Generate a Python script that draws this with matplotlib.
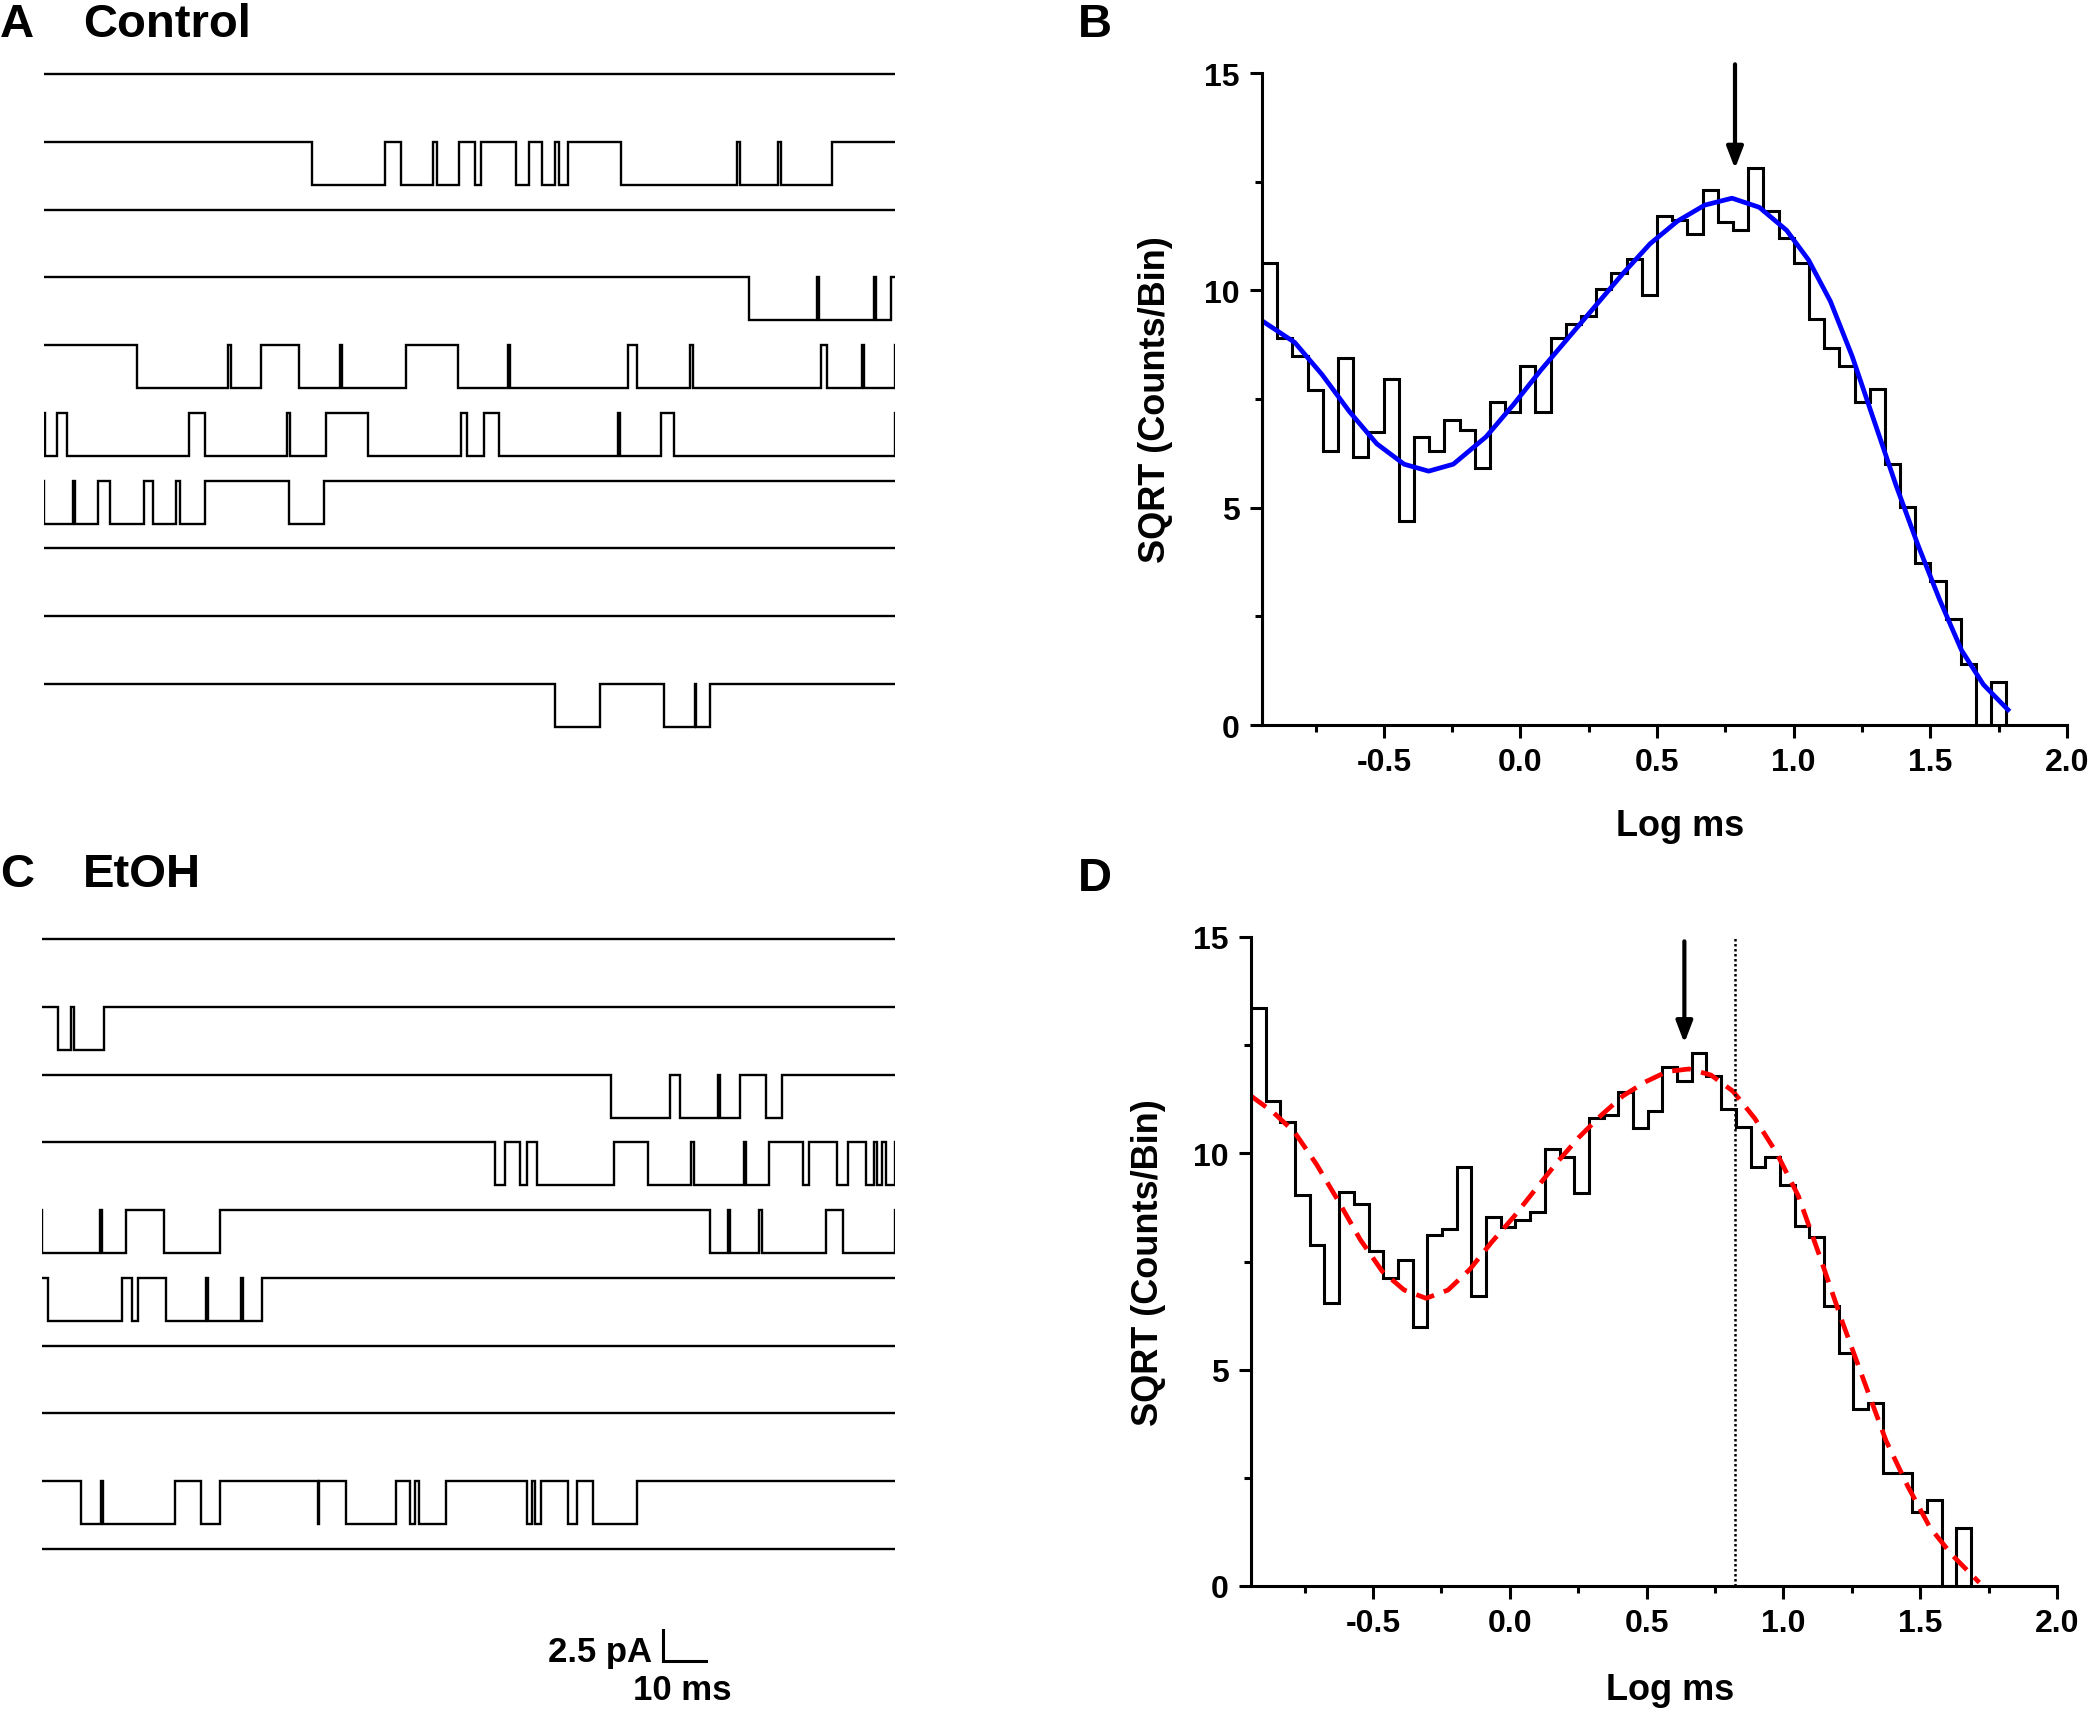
import numpy as np
import matplotlib
matplotlib.use("Agg")
import matplotlib.pyplot as plt
from matplotlib.ticker import MultipleLocator, FormatStrFormatter

plt.rcParams["font.family"] = ["Liberation Sans", "DejaVu Sans"]
plt.rcParams["font.weight"] = "bold"
plt.rcParams["axes.unicode_minus"] = False

# ---- single channel traces: open intervals (ms) per sweep, 200 ms sweeps ----
sweep_ms = 200.0
open_amp_pA = 3.5

control_open = [
    [],
    [(63.0, 80.2), (84.0, 91.4), (92.3, 97.5), (101.3, 102.6), (111.0, 113.9),
     (117.0, 120.2), (121.1, 123.1), (135.7, 162.9), (163.6, 172.4), (173.3, 185.2)],
    [],
    [(165.6, 181.6), (182.2, 195.0), (195.6, 199.0)],
    [(21.9, 43.2), (44.0, 50.9), (59.9, 69.5), (70.1, 85.0), (97.2, 109.1),
     (109.6, 137.3), (139.3, 151.9), (152.6, 182.5), (184.1, 192.2), (192.8, 200.0)],
    [(0.3, 3.0), (5.4, 34.0), (37.8, 57.2), (57.7, 66.2), (76.1, 98.1),
     (99.5, 103.3), (106.9, 134.8), (135.3, 145.1), (148.1, 200.0)],
    [(0.0, 6.8), (7.3, 12.7), (15.5, 23.5), (25.7, 31.0), (32.0, 37.8), (57.6, 65.7)],
    [],
    [],
    [(120.2, 130.7), (145.7, 152.9), (153.3, 156.5)],
]

etoh_open = [
    [],
    [(3.8, 6.9), (7.4, 14.5)],
    [(133.5, 147.3), (149.6, 158.4), (159.0, 163.7), (169.7, 173.4)],
    [(106.2, 108.6), (112.0, 113.7), (116.0, 134.1), (142.2, 152.1), (152.8, 164.5),
     (165.1, 170.4), (178.5, 179.8), (186.5, 189.0), (193.3, 195.0), (195.8, 197.0),
     (198.0, 200.0)],
    [(0.0, 13.6), (14.1, 19.6), (28.6, 41.7), (156.7, 160.8), (161.3, 168.2),
     (168.7, 183.9), (187.9, 200.0)],
    [(1.3, 18.8), (21.0, 22.6), (29.0, 38.5), (39.0, 46.6), (47.1, 51.5)],
    [],
    [],
    [(9.2, 13.8), (14.2, 31.1), (37.3, 41.8), (64.6, 65.0), (71.2, 83.0), (86.3, 87.5),
     (88.5, 94.7), (113.7, 115.0), (115.6, 116.9), (123.4, 125.4), (129.3, 139.5)],
    [],
]

# ---- dwell time histograms (sqrt counts per bin), log ms ----
bin_start = -0.946
bin_width_B = 0.0556
bin_width_D = 0.0537

control_hist = [10.62, 8.90, 8.50, 7.70, 6.31, 8.45, 6.16, 6.73, 7.95, 4.70,
                6.62, 6.30, 7.02, 6.79, 5.92, 7.42, 7.19, 8.27, 7.20, 8.90,
                9.22, 9.40, 10.02, 10.41, 10.72, 9.89, 11.71, 11.62, 11.29, 12.31,
                11.58, 11.39, 12.81, 11.83, 11.21, 10.62, 9.33, 8.67, 8.27, 7.42,
                7.74, 6.00, 5.02, 3.73, 3.31, 2.44, 1.40, 0.0, 0.98]

etoh_hist = [13.35, 11.21, 10.72, 9.04, 7.88, 6.53, 9.10, 8.82, 7.74, 7.12,
             7.53, 5.98, 8.11, 8.25, 9.69, 6.70, 8.52, 8.29, 8.47, 8.64,
             10.10, 9.91, 9.08, 10.81, 10.89, 11.41, 10.58, 10.98, 11.99, 11.68,
             12.31, 11.79, 11.02, 10.60, 9.68, 9.91, 9.27, 8.32, 8.06, 6.46,
             5.39, 4.10, 4.23, 2.62, 2.62, 1.72, 1.99, 0.0, 1.35]

control_fit_x = [-0.946, -0.826, -0.726, -0.626, -0.526, -0.426, -0.336, -0.246, -0.126,
                 -0.026, 0.074, 0.174, 0.274, 0.374, 0.474, 0.574, 0.674, 0.774, 0.874,
                 0.974, 1.054, 1.134, 1.214, 1.294, 1.374, 1.454, 1.534, 1.614, 1.694, 1.784]
control_fit_y = [9.30, 8.80, 8.06, 7.21, 6.47, 6.00, 5.84, 6.00, 6.63, 7.37, 8.16, 8.90,
                 9.64, 10.38, 11.07, 11.59, 11.96, 12.12, 11.91, 11.38, 10.70, 9.75,
                 8.48, 7.00, 5.52, 4.15, 2.88, 1.72, 0.93, 0.35]

etoh_fit_x = [-0.947, -0.867, -0.787, -0.707, -0.627, -0.547, -0.466, -0.386, -0.306,
              -0.226, -0.146, -0.066, 0.014, 0.094, 0.174, 0.254, 0.334, 0.414, 0.495,
              0.575, 0.655, 0.735, 0.815, 0.895, 0.975, 1.055, 1.135, 1.215, 1.295,
              1.375, 1.455, 1.536, 1.616, 1.716]
etoh_fit_y = [11.33, 10.96, 10.49, 9.75, 8.90, 8.01, 7.27, 6.84, 6.65, 6.84, 7.32, 7.95,
              8.53, 9.17, 9.80, 10.38, 10.88, 11.33, 11.65, 11.89, 11.95, 11.81, 11.44,
              10.81, 10.01, 9.01, 7.58, 6.11, 4.73, 3.36, 2.30, 1.35, 0.72, 0.08]

control_arrow_x = 0.785
etoh_arrow_x = 0.638
etoh_cutoff_x = 0.822

W, H = 2100, 1715
fig = plt.figure(figsize=(W / 100, H / 100), dpi=100)


def px_axes(x0, y0, x1, y1):
    return fig.add_axes([x0 / W, 1 - y1 / H, (x1 - x0) / W, (y1 - y0) / H])


px_per_pA = 12.32
sweep_gap_pA = 5.5
top_pad_pA = 1.22


def step_trace(intervals, base):
    xs, ys = [0.0], [base]
    for a, b in intervals:
        xs += [a, a, b, b]
        ys += [base, base - open_amp_pA, base - open_amp_pA, base]
    xs.append(sweep_ms)
    ys.append(base)
    return xs, ys


def trace_panel(ax, sweeps):
    for k, iv in enumerate(sweeps):
        x, y = step_trace(iv, -k * sweep_gap_pA)
        ax.plot(x, y, color="black", lw=1.7, solid_joinstyle="miter")
    ax.set_xlim(0, sweep_ms)
    ax.set_ylim(top_pad_pA - 700 / px_per_pA, top_pad_pA)
    ax.axis("off")


axA = px_axes(44, 60, 895, 760)
trace_panel(axA, control_open)
axC = px_axes(42, 925, 895, 1625)
trace_panel(axC, etoh_open)

# scale bar: 2.5 pA, 10 ms
sb_x, sb_y = 145.6, -58.6
axC.plot([sb_x, sb_x, sb_x + 10], [sb_y + 2.5, sb_y, sb_y], color="black", lw=2.2,
         clip_on=False, solid_joinstyle="miter")
axC.text(sb_x - 2.6, sb_y + 0.75, "2.5 pA", ha="right", va="center", fontsize=25,
         fontweight="bold")
axC.text(sb_x + 4.6, sb_y - 2.3, "10 ms", ha="center", va="center", fontsize=25,
         fontweight="bold")


def hist_panel(ax, heights, width, fit_x, fit_y, fit_style):
    edges = bin_start + width * np.arange(len(heights) + 1)
    ax.stairs(heights, edges, baseline=0, color="black", lw=2.2)
    ax.plot(fit_x, fit_y, **fit_style)
    ax.set_xlim(bin_start, 2.0)
    ax.set_ylim(0, 15)
    for s in ["top", "right"]:
        ax.spines[s].set_visible(False)
    for s in ["left", "bottom"]:
        ax.spines[s].set_linewidth(2.2)
    ax.xaxis.set_major_locator(MultipleLocator(0.5))
    ax.xaxis.set_minor_locator(MultipleLocator(0.25))
    ax.xaxis.set_major_formatter(FormatStrFormatter("%.1f"))
    ax.yaxis.set_major_locator(MultipleLocator(5))
    ax.yaxis.set_minor_locator(MultipleLocator(2.5))
    ax.tick_params(which="major", length=9, width=2.2, labelsize=23, pad=7)
    ax.tick_params(which="minor", length=5, width=2.2)
    ax.set_xlabel("Log ms", fontsize=26, fontweight="bold")
    ax.set_ylabel("SQRT (Counts/Bin)", fontsize=26, fontweight="bold")


arrow_style = dict(arrowstyle="-|>,head_length=1.3,head_width=0.5",
                   lw=3, color="black", shrinkA=0, shrinkB=0)

axB = px_axes(1262, 74, 2067, 726)
hist_panel(axB, control_hist, bin_width_B, control_fit_x, control_fit_y,
           dict(color="#0000ff", lw=3.4))
axB.xaxis.set_label_coords(0.52, -0.128)
axB.yaxis.set_label_coords(-0.110, 0.5)
axB.annotate("", xy=(control_arrow_x, 12.8), xytext=(control_arrow_x, 15.2),
             arrowprops=arrow_style, annotation_clip=False)

axD = px_axes(1251, 938, 2057, 1587)
hist_panel(axD, etoh_hist, bin_width_D, etoh_fit_x, etoh_fit_y,
           dict(color="#ff0000", lw=3.4, linestyle=(0, (4, 2.2))))
axD.plot([etoh_cutoff_x, etoh_cutoff_x], [0, 15], color="black", lw=1.8,
         linestyle=(0, (1, 1)))
axD.xaxis.set_label_coords(0.52, -0.133)
axD.yaxis.set_label_coords(-0.106, 0.5)
axD.annotate("", xy=(etoh_arrow_x, 12.55), xytext=(etoh_arrow_x, 14.9),
             arrowprops=arrow_style, annotation_clip=False)

# panel letters and titles
for x, y, s in [(0, 25, "A"), (83, 25, "Control"), (1078, 25, "B"),
                (0, 875, "C"), (83, 875, "EtOH"), (1078, 879, "D")]:
    fig.text(x / W, 1 - y / H, s, ha="left", va="center", fontsize=34,
             fontweight="bold")

fig.savefig("out.png", dpi=100)
